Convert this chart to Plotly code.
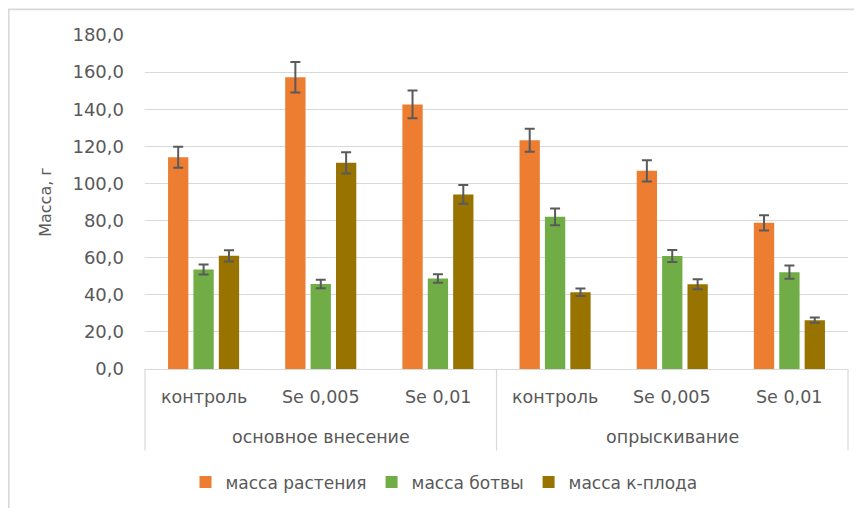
import plotly.graph_objects as go

groups = ["основное внесение"] * 3 + ["опрыскивание"] * 3
categories = ["контроль", "Se 0,005", "Se 0,01", "контроль", "Se 0,005", "Se 0,01"]
group_names = ["основное внесение", "опрыскивание"]

series_names = ["масса растения", "масса ботвы", "масса к-плода"]
plant = [114.1, 157.2, 142.6, 123.3, 106.8, 78.8]
plant_err = [5.7, 8.2, 7.5, 6.2, 5.7, 4.1]
tops = [53.6, 45.8, 48.8, 82.0, 60.9, 52.2]
tops_err = [2.7, 2.3, 2.3, 4.5, 3.2, 3.6]
roots = [61.0, 111.1, 94.1, 41.4, 45.7, 26.3]
roots_err = [3.0, 5.7, 5.0, 2.0, 2.7, 1.4]

y_ticks = [0, 20, 40, 60, 80, 100, 120, 140, 160, 180]

colors = ["#ED7D31", "#70AD47", "#997300"]
FONT = "DejaVu Sans, Open Sans, sans-serif"
TXT = "#595959"
LINE = "#d9d9d9"

# page body has an 8px margin; figure sits at (8, 8) in the screenshot
OFF = 8
W, H = 854, 500
L, R, T, B = 137, 14, 26.5, 138.7
pw, ph = W - L - R, H - T - B


def sx(p):
    """screenshot x pixel -> paper x"""
    return (p - OFF - L) / pw


def sy(p):
    """screenshot y pixel -> paper y"""
    return (H - B - (p - OFF)) / ph


fig = go.Figure()
for name, vals, errs, col in zip(series_names, [plant, tops, roots],
                                 [plant_err, tops_err, roots_err], colors):
    fig.add_trace(go.Bar(
        x=[groups, categories], y=vals, name=name,
        marker=dict(color=col, line=dict(width=0)),
        error_y=dict(type="data", array=errs, visible=True,
                     color="#5a5a5a", thickness=2, width=5),
    ))

# outer chart frame
fig.add_shape(type="rect", xref="paper", yref="paper",
              x0=sx(8.8), x1=sx(900), y0=sy(560), y1=sy(8.8),
              line=dict(color=LINE, width=1.6), fillcolor="rgba(0,0,0,0)",
              layer="below")

# category labels (level 1) and group labels (level 2)
n = len(categories)
for i, c in enumerate(categories):
    fig.add_annotation(x=(i + 0.5) / n, y=sy(397), xref="paper", yref="paper",
                       text=c, showarrow=False, xanchor="center", yanchor="middle",
                       font=dict(size=17.5, color=TXT))
for gi, g in enumerate(group_names):
    fig.add_annotation(x=(gi + 0.5) / len(group_names), y=sy(437),
                       xref="paper", yref="paper",
                       text=g, showarrow=False, xanchor="center", yanchor="middle",
                       font=dict(size=17.5, color=TXT))
# dividers of the category axis
for gi in range(len(group_names) + 1):
    xp = gi / len(group_names)
    fig.add_shape(type="line", xref="paper", yref="paper",
                  x0=xp, x1=xp, y0=0, y1=sy(451),
                  line=dict(color=LINE, width=1.2))

fig.update_layout(
    width=W, height=H,
    margin=dict(l=L, r=R, t=T, b=B, autoexpand=False),
    paper_bgcolor="white", plot_bgcolor="white",
    separators=", ",
    barmode="group", bargap=0.35, bargroupgap=0.2,
    font=dict(family=FONT, color=TXT, size=17),
    showlegend=True,
    legend=dict(orientation="h", x=sx(444), xanchor="center",
                y=sy(483), yanchor="middle",
                font=dict(size=17, color=TXT), itemwidth=30,
                bgcolor="rgba(0,0,0,0)"),
    yaxis=dict(range=[0, 180], tickvals=y_ticks, tickformat=".1f",
               showgrid=True, gridcolor=LINE, gridwidth=1,
               zeroline=False, showline=False, automargin=False,
               tickfont=dict(size=18, color=TXT),
               ticklabelstandoff=20,
               title=dict(text="Масса, г", font=dict(size=16, color=TXT),
                          standoff=16)),
    xaxis=dict(type="multicategory", showline=True, linecolor=LINE,
               linewidth=1, showgrid=False, ticks="", automargin=False,
               showticklabels=False, showdividers=False),
)

fig.write_html("out.html")
